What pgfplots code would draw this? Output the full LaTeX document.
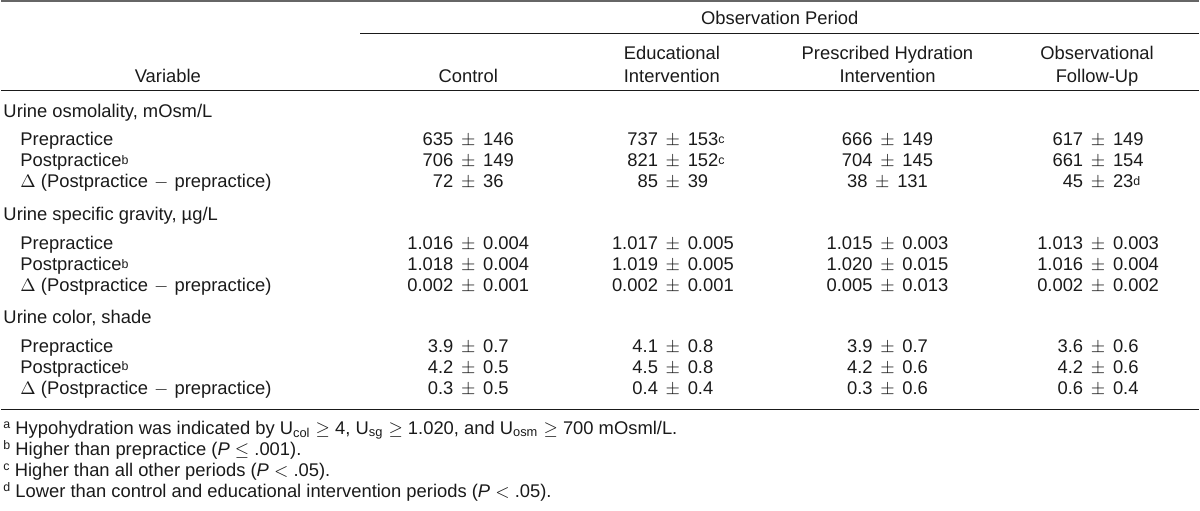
\documentclass[border=0pt]{standalone}
\usepackage{fontspec}
\setmainfont{Liberation Sans}
\usepackage{pgfplots}
\pgfplotsset{compat=1.18}
\definecolor{txt}{HTML}{1A1A1A}
\newcommand{\sups}[1]{\raisebox{0.25ex}{\fontsize{6.2}{7}\selectfont #1}}
\newcommand{\fsup}[1]{\raisebox{0.6ex}{\fontsize{6.2}{7}\selectfont #1}}
\newcommand{\dlt}{$\Delta$ (Postpractice\hspace{0.33em}$-$\hspace{0.33em}prepractice)}
\newcommand{\pmm}{\hspace{0.42em}$\pm$\hspace{0.42em}}
\tikzset{
  tx/.style={font=\fontsize{9.2}{11}\selectfont, text=txt, inner sep=0pt},
  L/.style={tx, anchor=base west},
  C/.style={tx, anchor=base}}
\begin{document}
\begin{tikzpicture}
\begin{axis}[scale only axis, width=600pt, height=255.5pt,
  xmin=0, xmax=1200, ymin=0, ymax=511, y dir=reverse,
  axis lines=none, ticks=none, clip=false]
\path (axis cs:0,0) rectangle (axis cs:1200,511);
% rules
\draw[line width=1.1pt, black!60] (axis cs:0,1.1) -- (axis cs:1200,1.1);
\draw[line width=0.5pt, txt] (axis cs:360,34) -- (axis cs:1200,34);
\draw[line width=0.5pt, txt] (axis cs:0,91) -- (axis cs:1200,91);
\draw[line width=0.5pt, txt] (axis cs:0,410) -- (axis cs:1200,410);
% header
\node[C] at (axis cs:780,25) {Observation Period};
\node[C] at (axis cs:167,83) {Variable};
\node[C] at (axis cs:468,83) {Control};
\node[C] at (axis cs:672,60) {Educational};
\node[C] at (axis cs:672,83) {Intervention};
\node[C] at (axis cs:888,60) {Prescribed Hydration};
\node[C] at (axis cs:888,83) {Intervention};
\node[C] at (axis cs:1098,60) {Observational};
\node[C] at (axis cs:1098,83) {Follow-Up};
% section 1
\node[L] at (axis cs:2,118) {Urine osmolality, mOsm/L};
\node[L] at (axis cs:19,146) {Prepractice};
\node[L] at (axis cs:19,167) {Postpractice\sups{b}};
\node[L] at (axis cs:19,188) {\dlt};
\node[C] at (axis cs:468,146) {635\pmm146};
\node[C] at (axis cs:468,167) {706\pmm149};
\node[C] at (axis cs:468,188) {72\pmm36};
\node[C] at (axis cs:673,146) {737\pmm153\rlap{\sups{c}}};
\node[C] at (axis cs:673,167) {821\pmm152\rlap{\sups{c}}};
\node[C] at (axis cs:673,188) {85\pmm39};
\node[C] at (axis cs:888,146) {666\pmm149};
\node[C] at (axis cs:888,167) {704\pmm145};
\node[C] at (axis cs:888,188) {38\pmm131};
\node[C] at (axis cs:1099,146) {617\pmm149};
\node[C] at (axis cs:1099,167) {661\pmm154};
\node[C] at (axis cs:1099,188) {45\pmm23\rlap{\sups{d}}};
% section 2
\node[L] at (axis cs:2,221) {Urine specific gravity, µg/L};
\node[L] at (axis cs:19,250) {Prepractice};
\node[L] at (axis cs:19,271) {Postpractice\sups{b}};
\node[L] at (axis cs:19,292) {\dlt};
\node[C] at (axis cs:468,250) {1.016\pmm0.004};
\node[C] at (axis cs:468,271) {1.018\pmm0.004};
\node[C] at (axis cs:468,292) {0.002\pmm0.001};
\node[C] at (axis cs:673,250) {1.017\pmm0.005};
\node[C] at (axis cs:673,271) {1.019\pmm0.005};
\node[C] at (axis cs:673,292) {0.002\pmm0.001};
\node[C] at (axis cs:888,250) {1.015\pmm0.003};
\node[C] at (axis cs:888,271) {1.020\pmm0.015};
\node[C] at (axis cs:888,292) {0.005\pmm0.013};
\node[C] at (axis cs:1099,250) {1.013\pmm0.003};
\node[C] at (axis cs:1099,271) {1.016\pmm0.004};
\node[C] at (axis cs:1099,292) {0.002\pmm0.002};
% section 3
\node[L] at (axis cs:2,324) {Urine color, shade};
\node[L] at (axis cs:19,353) {Prepractice};
\node[L] at (axis cs:19,374) {Postpractice\sups{b}};
\node[L] at (axis cs:19,395) {\dlt};
\node[C] at (axis cs:468,353) {3.9\pmm0.7};
\node[C] at (axis cs:468,374) {4.2\pmm0.5};
\node[C] at (axis cs:468,395) {0.3\pmm0.5};
\node[C] at (axis cs:673,353) {4.1\pmm0.8};
\node[C] at (axis cs:673,374) {4.5\pmm0.8};
\node[C] at (axis cs:673,395) {0.4\pmm0.4};
\node[C] at (axis cs:888,353) {3.9\pmm0.7};
\node[C] at (axis cs:888,374) {4.2\pmm0.6};
\node[C] at (axis cs:888,395) {0.3\pmm0.6};
\node[C] at (axis cs:1099,353) {3.6\pmm0.6};
\node[C] at (axis cs:1099,374) {4.2\pmm0.6};
\node[C] at (axis cs:1099,395) {0.6\pmm0.4};
% footnotes
\node[L] at (axis cs:2,435) {\fsup{a} Hypohydration was indicated by U\textsubscript{col} $\geq$ 4, U\textsubscript{sg} $\geq$ 1.020, and U\textsubscript{osm} $\geq$ 700 mOsml/L.};
\node[L] at (axis cs:2,456) {\fsup{b} Higher than prepractice (\textit{P} $\leq$ .001).};
\node[L] at (axis cs:2,477) {\fsup{c} Higher than all other periods (\textit{P} $<$ .05).};
\node[L] at (axis cs:2,498) {\fsup{d} Lower than control and educational intervention periods (\textit{P} $<$ .05).};
\end{axis}
\end{tikzpicture}
\end{document}
